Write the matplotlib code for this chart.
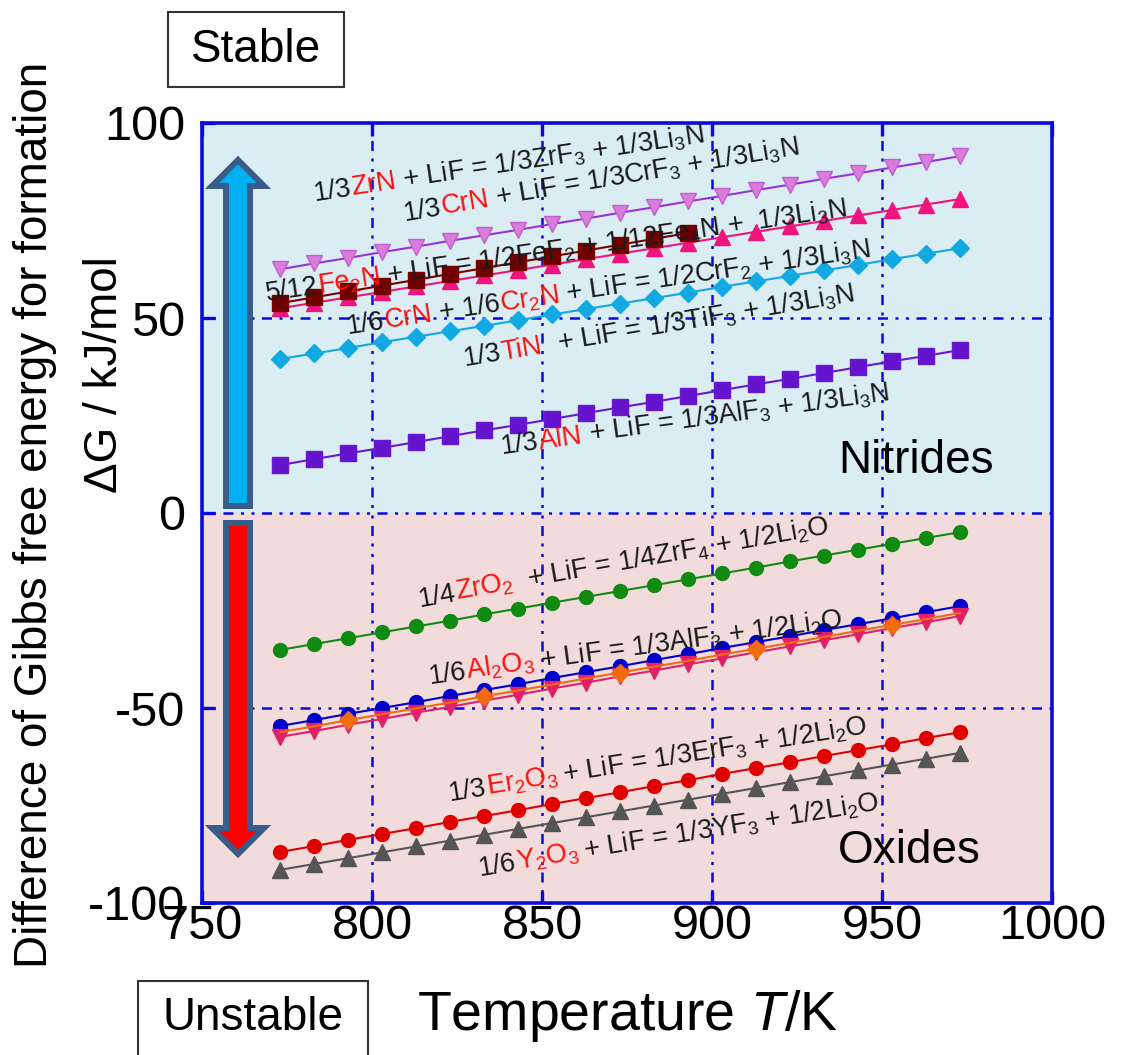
import numpy as np
import matplotlib
matplotlib.use("Agg")
import matplotlib.pyplot as plt
from matplotlib import patches

plt.rcParams['font.family'] = ['Liberation Sans', 'DejaVu Sans']
plt.rcParams['mathtext.fontset'] = 'custom'
plt.rcParams['mathtext.rm'] = 'Liberation Sans'
plt.rcParams['mathtext.it'] = 'Liberation Sans:italic'
plt.rcParams['mathtext.sf'] = 'Liberation Sans'
plt.rcParams['mathtext.bf'] = 'Liberation Sans:bold'
plt.rcParams['axes.unicode_minus'] = False

# ---------------- data ----------------
T = [773, 783, 793, 803, 813, 823, 833, 843, 853, 863, 873,
     883, 893, 903, 913, 923, 933, 943, 953, 963, 973]
T_fe = T[:13]

zrn = [62.5, 64.0, 65.4, 66.9, 68.3, 69.8, 71.2, 72.6, 74.1, 75.5, 77.0,
       78.4, 79.9, 81.3, 82.8, 84.2, 85.7, 87.1, 88.6, 90.0, 91.5]
crn = [52.5, 53.9, 55.3, 56.7, 58.1, 59.5, 60.9, 62.3, 63.7, 65.1, 66.5,
       67.9, 69.3, 70.7, 72.1, 73.5, 74.9, 76.3, 77.7, 79.1, 80.5]
fe2n = [53.8, 55.3, 56.8, 58.3, 59.8, 61.3, 62.8, 64.3, 65.8, 67.3, 68.8,
        70.3, 71.8]
crn_cr2n = [39.5, 40.9, 42.3, 43.8, 45.2, 46.6, 48.0, 49.4, 50.9, 52.3, 53.7,
            55.1, 56.5, 58.0, 59.4, 60.8, 62.2, 63.6, 65.1, 66.5, 67.9]
aln = [12.3, 13.8, 15.3, 16.7, 18.2, 19.7, 21.2, 22.6, 24.1, 25.6, 27.1,
       28.5, 30.0, 31.5, 33.0, 34.4, 35.9, 37.4, 38.9, 40.3, 41.8]
zro2 = [-35.1, -33.6, -32.1, -30.6, -29.1, -27.6, -26.0, -24.5, -23.0, -21.5, -20.0,
        -18.5, -17.0, -15.5, -14.0, -12.4, -10.9, -9.4, -7.9, -6.4, -4.9]
al2o3 = [-54.6, -53.1, -51.5, -50.0, -48.5, -46.9, -45.4, -43.9, -42.3, -40.8, -39.3,
         -37.7, -36.2, -34.6, -33.1, -31.6, -30.0, -28.5, -27.0, -25.4, -23.9]
ox_orange = [-56.2, -54.7, -53.1, -51.6, -50.1, -48.6, -47.0, -45.5, -44.0, -42.4, -40.9,
             -39.4, -37.9, -36.3, -34.8, -33.3, -31.8, -30.2, -28.7, -27.2, -25.6]
ox_pink = [-57.4, -55.9, -54.3, -52.8, -51.2, -49.7, -48.1, -46.6, -45.0, -43.5, -41.9,
           -40.4, -38.8, -37.3, -35.7, -34.2, -32.6, -31.1, -29.5, -28.0, -26.4]
er2o3 = [-86.9, -85.4, -83.8, -82.3, -80.8, -79.2, -77.7, -76.2, -74.6, -73.1, -71.6,
         -70.0, -68.5, -66.9, -65.4, -63.9, -62.3, -60.8, -59.3, -57.7, -56.2]
y2o3 = [-91.5, -90.0, -88.5, -87.0, -85.5, -84.0, -82.5, -81.0, -79.5, -78.0, -76.5,
        -75.0, -73.5, -72.0, -70.5, -69.0, -67.5, -66.0, -64.5, -63.0, -61.5]

xticks = [750, 800, 850, 900, 950, 1000]
yticks = [-100, -50, 0, 50, 100]

# ---------------- figure ----------------
W, H = 1122, 1055
fig = plt.figure(figsize=(W / 100, H / 100), dpi=100)
L, R, TOP, BOT = 202, 1052, 123, 903
ax = fig.add_axes([L / W, (H - BOT) / H, (R - L) / W, (BOT - TOP) / H])
ax.set_xlim(750, 1000)
ax.set_ylim(-100, 100)

ax.axhspan(0, 100, color='#DAEDF3', zorder=0)
ax.axhspan(-100, 0, color='#F2DCDB', zorder=0)

BLUE = '#0A0ADC'
for s in ax.spines.values():
    s.set_color(BLUE)
    s.set_linewidth(2.6)
ax.set_xticks(xticks)
ax.set_yticks(yticks)
ax.tick_params(direction='in', length=9, width=2.4, color=BLUE,
               top=True, right=False, labelsize=35, pad=1)
ax.tick_params(axis='y', pad=12)
GRID_LS = (0, (1.2, 3.0, 1.2, 3.0, 4.0, 3.0))
for gx in xticks[1:-1]:
    ax.axvline(gx, color=BLUE, lw=1.8, ls=GRID_LS, zorder=1)
for gy in yticks[1:-1]:
    ax.axhline(gy, color=BLUE, lw=1.8, ls=GRID_LS, zorder=1)

lw = 1.5
ax.plot(T, zrn, color='#9A30D8', lw=lw, marker='v', ms=11, mfc='#DA7CDA',
        mec='#C060D0', zorder=3)
ax.plot(T, crn, color='#F0147E', lw=lw, marker='^', ms=11, mfc='#F0147E',
        mec='#F0147E', zorder=3)
ax.plot(T_fe, fe2n, color='#7A0000', lw=lw, marker='s', ms=11, mfc='#700000',
        mec='#7A0000', zorder=4)
ax.plot(T, crn_cr2n, color='#12A8E2', lw=lw, marker='D', ms=9, mfc='#12A8E2',
        mec='#12A8E2', zorder=3)
ax.plot(T, aln, color='#6A18D0', lw=lw, marker='s', ms=11, mfc='#6414CC',
        mec='#6A18D0', zorder=3)
ax.plot(T, zro2, color='#128A12', lw=lw, marker='o', ms=10, mfc='#108A10',
        mec='#108A10', zorder=3)
ax.plot(T, al2o3, color='#0000CC', lw=lw, marker='o', ms=10, mfc='#0000CC',
        mec='#0000CC', zorder=3)
ax.plot(T, ox_pink, color='#E0206A', lw=lw, marker='v', ms=11, mfc='#E0206A',
        mec='#E0206A', zorder=3.5)
ax.plot(T, ox_orange, color='#F26B10', lw=lw, marker='D', ms=9, mfc='#F26B10',
        mec='#F26B10', markevery=(2, 4), zorder=3.6)
ax.plot(T, er2o3, color='#E00000', lw=lw, marker='o', ms=10, mfc='#E00000',
        mec='#E00000', zorder=3)
ax.plot(T, y2o3, color='#555555', lw=lw, marker='^', ms=11, mfc='#555555',
        mec='#555555', zorder=3)

# ---------------- rich text labels ----------------
fig.canvas.draw()
renderer = fig.canvas.get_renderer()
K = '#1A1A1A'
RD = '#FF1010'
LFS = 19.5


def measure(s, fs):
    t = fig.text(0, 0, s, fontsize=fs)
    w = t.get_window_extent(renderer).width
    t.remove()
    return w


def rich(x, y, segs, rot, fs=LFS):
    x0, y0 = ax.transData.transform((x, y))
    th = np.deg2rad(rot)
    wI = measure('I', fs)
    prefix = ''
    inv = ax.transData.inverted()
    for txt, col in segs:
        w = measure(prefix + 'I', fs) - wI if prefix else 0.0
        px, py = x0 + w * np.cos(th), y0 + w * np.sin(th)
        dx, dy = inv.transform((px, py))
        ax.text(dx, dy, txt, color=col, fontsize=fs, rotation=rot,
                rotation_mode='anchor', ha='left', va='baseline', zorder=6)
        prefix += txt


rich(783.2, 80.0, [('1/3', K), ('ZrN', RD), (' + LiF = 1/3ZrF$_3$ + 1/3Li$_3$N', K)], 8.5)
rich(809.7, 75.0, [('1/3', K), ('CrN', RD), (' + LiF = 1/3CrF$_3$ + 1/3Li$_3$N', K)], 9.5)
rich(769.1, 54.4, [('5/12', K), ('Fe$_2$N', RD),
                   (' + LiF = 1/2FeF$_2$ + 1/12Fe$_4$N +  1/3Li$_3$N', K)], 8.3)
rich(793.0, 46.0, [('1/6', K), ('CrN', RD), (' + 1/6', K), ('Cr$_2$N', RD),
                   (' + LiF = 1/2CrF$_2$ + 1/3Li$_3$N', K)], 8.3)
rich(827.4, 37.6, [('1/3', K), ('TiN', RD), ('  + LiF = 1/3TiF$_3$ + 1/3Li$_3$N', K)], 9.5)
rich(838.2, 15.2, [('1/3', K), ('AlN', RD), (' + LiF = 1/3AlF$_3$ + 1/3Li$_3$N', K)], 7.8)
rich(814.1, -24.0, [('1/4', K), ('ZrO$_2$', RD), ('  + LiF = 1/4ZrF$_4$ + 1/2Li$_2$O', K)], 10.0)
rich(817.0, -43.8, [('1/6', K), ('Al$_2$O$_3$', RD), (' + LiF = 1/3AlF$_3$ + 1/2Li$_2$O', K)], 7.8)
rich(823.0, -73.8, [('1/3', K), ('Er$_2$O$_3$', RD), (' + LiF = 1/3ErF$_3$ + 1/2Li$_2$O', K)], 9.1)
rich(831.8, -93.0, [('1/6', K), ('Y$_2$O$_3$', RD), (' + LiF = 1/3YF$_3$ + 1/2Li$_2$O', K)], 9.3)

ax.text(937, 10.3, 'Nitrides', fontsize=33, color='black', ha='left', va='baseline', zorder=6)
ax.text(937, -89.7, 'Oxides', fontsize=33, color='black', ha='left', va='baseline', zorder=6)

# ---------------- block arrows (axes fraction) ----------------
def fx(px):
    return (px - L) / (R - L)


def fy(py):
    return (BOT - py) / (BOT - TOP)


cx = 238
sh, hh = 12, 26
up = [(fx(cx - sh), fy(506)), (fx(cx - sh), fy(186)), (fx(cx - hh), fy(186)),
      (fx(cx), fy(160)), (fx(cx + hh), fy(186)), (fx(cx + sh), fy(186)),
      (fx(cx + sh), fy(506))]
down = [(fx(cx - sh), fy(523)), (fx(cx - sh), fy(828)), (fx(cx - hh), fy(828)),
        (fx(cx), fy(854)), (fx(cx + hh), fy(828)), (fx(cx + sh), fy(828)),
        (fx(cx + sh), fy(523))]
ax.add_patch(patches.Polygon(up, closed=True, transform=ax.transAxes, fc='#00B0F0',
                             ec='#3A5C88', lw=4.3, joinstyle='miter', zorder=5))
ax.add_patch(patches.Polygon(down, closed=True, transform=ax.transAxes, fc='#FF0000',
                             ec='#3A5C88', lw=4.3, joinstyle='miter', zorder=5))

# ---------------- outer texts ----------------
fig.text(627 / W, (H - 1030) / H, 'Temperature $T$/K', fontsize=40, ha='center',
         va='baseline')
fig.text(35 / W, (H - 515) / H, 'Difference of Gibbs free energy for formation',
         fontsize=33, rotation=90, ha='center', va='center')
fig.text(105 / W, (H - 375) / H, 'ΔG / kJ/mol', fontsize=33, rotation=90,
         ha='center', va='center')

fig.patches.append(patches.Rectangle((168 / W, (H - 87) / H), 176 / W, 75 / H,
                                     transform=fig.transFigure, fc='white',
                                     ec='#333333', lw=1.5))
fig.text(256 / W, (H - 50) / H, 'Stable', fontsize=33, ha='center', va='center')
fig.patches.append(patches.Rectangle((138 / W, (H - 1070) / H), 230 / W, 89 / H,
                                     transform=fig.transFigure, fc='white',
                                     ec='#333333', lw=1.5))
fig.text(253 / W, (H - 1018) / H, 'Unstable', fontsize=33, ha='center', va='center')

fig.savefig('out.png', dpi=100)
